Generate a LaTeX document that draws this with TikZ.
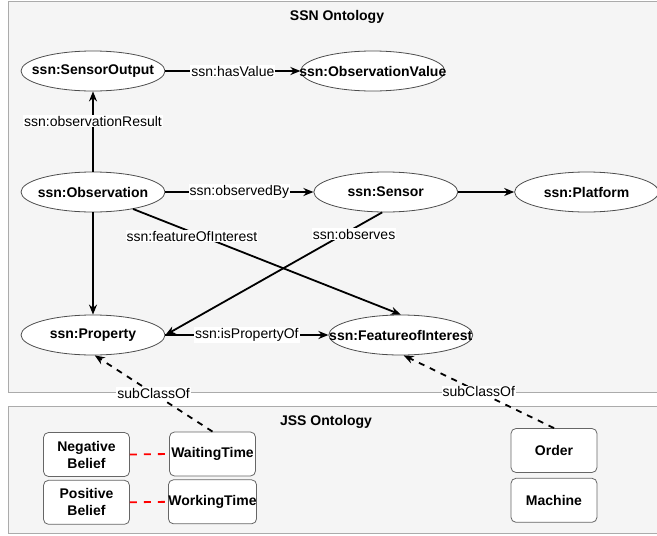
\documentclass[tikz,border=0pt]{standalone}
\usepackage{fontspec}
\setmainfont{Liberation Sans}
\usepackage{xcolor}
\usetikzlibrary{positioning, shapes.geometric, arrows.meta}
\definecolor{groupfill}{HTML}{F5F5F5}
\definecolor{groupline}{HTML}{ABABAB}
\definecolor{entline}{HTML}{4D4D4D}
\definecolor{boxline}{HTML}{666666}
\begin{document}
\begin{tikzpicture}[x=1pt, y=-1pt, >={Stealth[length=10pt,width=8pt]},
  group/.style={draw=groupline, fill=groupfill, line width=0.9pt},
  title/.style={font=\bfseries\fontsize{14}{17}\selectfont},
  ent/.style={ellipse, draw=entline, fill=white, line width=0.8pt, minimum width=144pt, minimum height=40pt, inner sep=0pt,
    font=\bfseries\fontsize{14}{17}\selectfont, execute at begin node={\hbox to 0pt\bgroup\hss}, execute at end node={\hss\egroup}},
  box/.style={draw=boxline, fill=white, rounded corners=5pt, line width=0.8pt, minimum width=86pt, minimum height=44pt, inner sep=0pt,
    align=center, font=\bfseries\fontsize{14}{17}\selectfont},
  lbl/.style={fill=white, inner sep=1pt, font=\fontsize{14}{17}\selectfont},
  rel/.style={->, line width=1.8pt},
  sub/.style={->, line width=1.8pt, dash pattern=on 6pt off 6pt},
  link/.style={red, line width=1.8pt, dash pattern=on 7pt off 7pt}]
  \useasboundingbox (0,0) rectangle (657,536);
  \clip (0,0) rectangle (657,536);
  \fill[white] (0,0) rectangle (657,536);
  \draw[group] (8,1.5) rectangle (668,392);
  \draw[group] (8,406) rectangle (668,533);
  \node[title] (ssnt) at (337,17) {SSN Ontology};
  \node[title] (jsst) at (326,422) {JSS Ontology};
  \node[ent] (so) at (93,71) {ssn:SensorOutput};
  \node[ent, right=135pt of so] (ov) {ssn:ObservationValue};
  \node[ent] (obs) at (93,192) {ssn:Observation};
  \node[ent, right=148pt of obs] (sen) {ssn:Sensor};
  \node[ent, right=56pt of sen] (plat) {ssn:Platform};
  \node[ent] (prop) at (93,335) {ssn:Property};
  \node[ent, right=163pt of prop] (foi) {ssn:FeatureofInterest};
  \node[box] (nb) at (86.5,454.5) {Negative\\Belief};
  \node[box, below=3pt of nb] (pb) {Positive\\Belief};
  \node[box] (wt) at (212.5,454) {WaitingTime};
  \node[box, below=3pt of wt] (wk) {WorkingTime};
  \node[box] (ord) at (554,450.5) {Order};
  \node[box, below=5pt of ord] (mach) {Machine};
  \draw[rel] (so) -- node[lbl]{ssn:hasValue} (ov);
  \draw[rel] (obs) -- node[lbl, pos=0.63]{ssn:observationResult} (so);
  \draw[rel] (obs) -- node[lbl]{ssn:observedBy} (sen);
  \draw[rel] (sen) -- (plat);
  \draw[rel] (obs) -- (prop);
  \draw[rel] (obs.-23) -- node[lbl, pos=0.22, yshift=-4pt]{ssn:featureOfInterest} (foi.north);
  \draw[rel] (sen.-100) -- node[lbl, pos=0.13, yshift=-6pt]{ssn:observes} (prop.east);
  \draw[rel] (prop) -- node[lbl]{ssn:isPropertyOf} (foi);
  \draw[sub] (wt.north) -- node[lbl]{subClassOf} (prop.-85);
  \draw[sub] (ord.north) -- node[lbl]{subClassOf} (foi.-82);
  \draw[link] (nb.east) -- (wt.west);
  \draw[link] (pb.east) -- (wk.west);
\end{tikzpicture}
\end{document}
